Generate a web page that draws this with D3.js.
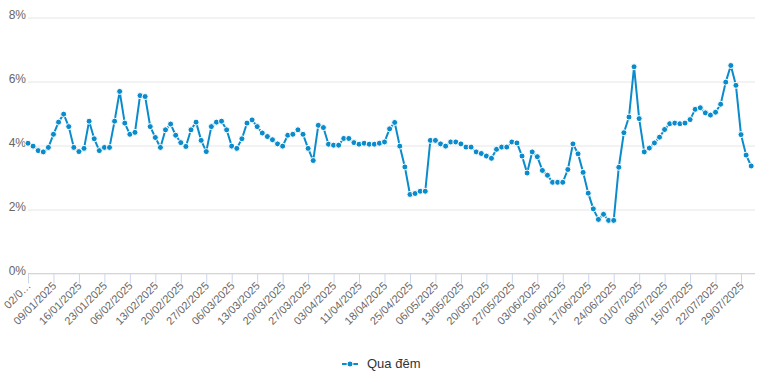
<!DOCTYPE html>
<html>
<head>
<meta charset="utf-8">
<script src="https://cdn.jsdelivr.net/npm/d3@7"></script>
<style>
    body { margin: 0; background: #fff; }
    svg { font-family: "Liberation Sans", Arial, Helvetica, sans-serif; }
    .axis text { fill: #666; }
</style>
</head>
<body>
<svg id="chart" width="763" height="385"></svg>
<script>
// working days shown on the category axis
var dates = [
    "02/01/2025","03/01/2025","06/01/2025","07/01/2025","08/01/2025","09/01/2025","10/01/2025","13/01/2025","14/01/2025","15/01/2025",
    "16/01/2025","17/01/2025","20/01/2025","21/01/2025","22/01/2025","23/01/2025","24/01/2025","03/02/2025","04/02/2025","05/02/2025",
    "06/02/2025","07/02/2025","10/02/2025","11/02/2025","12/02/2025","13/02/2025","14/02/2025","17/02/2025","18/02/2025","19/02/2025",
    "20/02/2025","21/02/2025","24/02/2025","25/02/2025","26/02/2025","27/02/2025","28/02/2025","03/03/2025","04/03/2025","05/03/2025",
    "06/03/2025","07/03/2025","10/03/2025","11/03/2025","12/03/2025","13/03/2025","14/03/2025","17/03/2025","18/03/2025","19/03/2025",
    "20/03/2025","21/03/2025","24/03/2025","25/03/2025","26/03/2025","27/03/2025","28/03/2025","31/03/2025","01/04/2025","02/04/2025",
    "03/04/2025","04/04/2025","08/04/2025","09/04/2025","10/04/2025","11/04/2025","14/04/2025","15/04/2025","16/04/2025","17/04/2025",
    "18/04/2025","21/04/2025","22/04/2025","23/04/2025","24/04/2025","25/04/2025","26/04/2025","28/04/2025","29/04/2025","05/05/2025",
    "06/05/2025","07/05/2025","08/05/2025","09/05/2025","12/05/2025","13/05/2025","14/05/2025","15/05/2025","16/05/2025","19/05/2025",
    "20/05/2025","21/05/2025","22/05/2025","23/05/2025","26/05/2025","27/05/2025","28/05/2025","29/05/2025","30/05/2025","02/06/2025",
    "03/06/2025","04/06/2025","05/06/2025","06/06/2025","09/06/2025","10/06/2025","11/06/2025","12/06/2025","13/06/2025","16/06/2025",
    "17/06/2025","18/06/2025","19/06/2025","20/06/2025","23/06/2025","24/06/2025","25/06/2025","26/06/2025","27/06/2025","30/06/2025",
    "01/07/2025","02/07/2025","03/07/2025","04/07/2025","07/07/2025","08/07/2025","09/07/2025","10/07/2025","11/07/2025","14/07/2025",
    "15/07/2025","16/07/2025","17/07/2025","18/07/2025","21/07/2025","22/07/2025","23/07/2025","24/07/2025","25/07/2025","28/07/2025",
    "29/07/2025","30/07/2025","31/07/2025"
];

// overnight rate, %
var overnight = [
    4.07, 3.98, 3.84, 3.80, 3.94, 4.35, 4.73, 4.98, 4.59, 3.94,
    3.81, 3.91, 4.76, 4.21, 3.84, 3.94, 3.94, 4.76, 5.69, 4.70,
    4.35, 4.41, 5.56, 5.53, 4.59, 4.25, 3.94, 4.49, 4.67, 4.32,
    4.09, 3.97, 4.49, 4.73, 4.16, 3.81, 4.59, 4.73, 4.76, 4.49,
    3.98, 3.91, 4.21, 4.70, 4.80, 4.59, 4.39, 4.28, 4.18, 4.05,
    3.98, 4.32, 4.35, 4.49, 4.35, 3.91, 3.53, 4.63, 4.56, 4.04,
    4.01, 4.01, 4.22, 4.22, 4.09, 4.04, 4.07, 4.04, 4.04, 4.07,
    4.11, 4.52, 4.72, 3.98, 3.33, 2.47, 2.50, 2.57, 2.57, 4.16,
    4.16, 4.05, 3.98, 4.11, 4.11, 4.05, 3.95, 3.95, 3.80, 3.75,
    3.67, 3.60, 3.88, 3.95, 3.95, 4.11, 4.08, 3.67, 3.14, 3.80,
    3.65, 3.22, 3.07, 2.85, 2.85, 2.85, 3.25, 4.05, 3.74, 3.16,
    2.51, 2.02, 1.69, 1.85, 1.66, 1.66, 3.32, 4.40, 4.89, 6.46,
    4.84, 3.80, 3.92, 4.08, 4.26, 4.50, 4.68, 4.70, 4.68, 4.70,
    4.81, 5.13, 5.18, 5.02, 4.95, 5.04, 5.29, 5.98, 6.50, 5.88,
    4.34, 3.70, 3.36
];

var yTicks = [0, 2, 4, 6, 8];
var tickEvery = 5;
var seriesName = "Qua đêm";
var lineColor = "#0a8bcb";

var svg = d3.select("#chart");

var plotLeft = 28, plotRight = 755, plotTop = 17.5, plotBottom = 273.5;

var xScale = d3.scalePoint()
    .domain(dates)
    .range([plotLeft, 751.2]);

var yScale = d3.scaleLinear()
    .domain([0, 8])
    .range([plotBottom, plotTop]);

// horizontal grid + y labels
var yAxis = d3.axisLeft(yScale)
    .tickValues(yTicks)
    .tickSize(-(plotRight - plotLeft))
    .tickPadding(2)
    .tickFormat(function(d) { return d + "%"; });

var yg = svg.append("g")
    .attr("class", "axis")
    .attr("transform", "translate(" + plotLeft + ",0)")
    .call(yAxis);
yg.select(".domain").remove();
yg.selectAll("line").attr("stroke", "#e6e6e6");
yg.selectAll("text")
    .attr("x", -2)
    .attr("dy", "0.1em")
    .style("font-size", "12px");

// x axis, a tick every 5 working days
var tickDates = dates.filter(function(d, i) { return i % tickEvery === 0; });

var xAxis = d3.axisBottom(xScale)
    .tickValues(tickDates)
    .tickSize(10)
    .tickFormat(function(d, i) { return i === 0 ? d.slice(0, 4) + "…" : d; });

var xg = svg.append("g")
    .attr("class", "axis")
    .attr("transform", "translate(0," + plotBottom + ")")
    .call(xAxis);
xg.select(".domain").remove();
xg.selectAll("line").attr("stroke", "#ccd6eb");
xg.selectAll("text")
    .attr("y", 0)
    .attr("dy", 0)
    .style("font-size", "11px")
    .style("text-anchor", "end")
    .attr("transform", "translate(3,13) rotate(-45)");

svg.append("line")
    .attr("x1", plotLeft)
    .attr("x2", plotRight)
    .attr("y1", plotBottom)
    .attr("y2", plotBottom)
    .attr("stroke", "#ccd6eb");

// series
var line = d3.line()
    .x(function(d, i) { return xScale(dates[i]); })
    .y(function(d) { return yScale(d); });

svg.append("path")
    .datum(overnight)
    .attr("d", line)
    .attr("fill", "none")
    .attr("stroke", lineColor)
    .attr("stroke-width", 2)
    .attr("stroke-linejoin", "round");

svg.selectAll("circle.pt")
    .data(overnight)
    .enter()
    .append("circle")
    .attr("class", "pt")
    .attr("cx", function(d, i) { return xScale(dates[i]); })
    .attr("cy", function(d) { return yScale(d); })
    .attr("r", 3)
    .attr("fill", lineColor)
    .attr("stroke", "#fff")
    .attr("stroke-width", 1);

// legend
var legend = svg.append("g")
    .attr("transform", "translate(342,364)");
legend.append("line")
    .attr("x1", 0)
    .attr("x2", 16)
    .attr("stroke", lineColor)
    .attr("stroke-width", 2);
legend.append("circle")
    .attr("cx", 8)
    .attr("r", 3)
    .attr("fill", lineColor)
    .attr("stroke", "#fff")
    .attr("stroke-width", 1);
legend.append("text")
    .attr("x", 25)
    .attr("y", 4)
    .style("font-size", "13px")
    .style("fill", "#333")
    .text(seriesName);
</script>
</body>
</html>
